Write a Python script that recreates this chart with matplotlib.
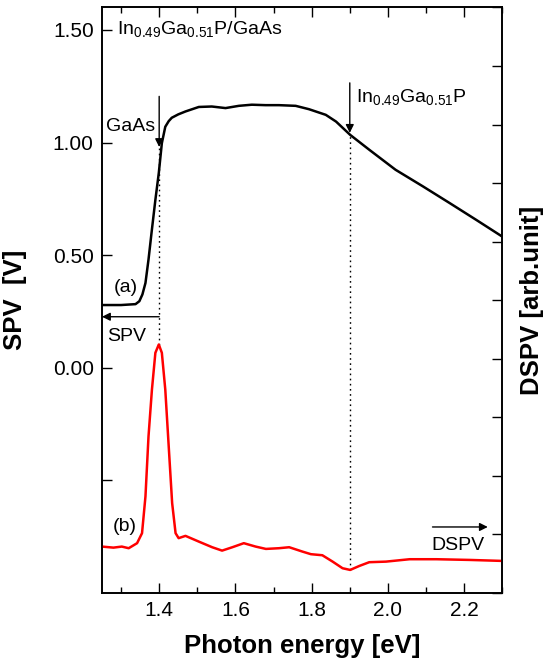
import matplotlib.pyplot as plt
from matplotlib.ticker import FixedLocator, MultipleLocator, NullFormatter

plt.rcParams['font.family'] = ['Liberation Sans', 'DejaVu Sans']
plt.rcParams['mathtext.default'] = 'regular'

# (a) surface photovoltage, left axis [V]
spv_energy = [1.25, 1.30, 1.338, 1.348, 1.356, 1.364, 1.372, 1.380, 1.390, 1.399,
              1.407, 1.416, 1.425, 1.433, 1.450, 1.469, 1.504, 1.538, 1.574,
              1.609, 1.643, 1.679, 1.714, 1.758, 1.793, 1.837, 1.864, 1.901,
              1.951, 2.020, 2.092, 2.162, 2.232, 2.300]
spv_value = [0.278, 0.278, 0.282, 0.295, 0.325, 0.376, 0.48, 0.60, 0.745, 0.865,
             0.997, 1.07, 1.095, 1.11, 1.125, 1.138, 1.158, 1.160, 1.153,
             1.163, 1.168, 1.166, 1.166, 1.163, 1.148, 1.123, 1.093, 1.034,
             0.968, 0.879, 0.805, 0.731, 0.656, 0.582]

# (b) differential SPV, right axis [arb. unit]
dspv_energy = [1.25, 1.28, 1.302, 1.32, 1.342, 1.355, 1.364, 1.372, 1.381, 1.390,
               1.399, 1.407, 1.416, 1.425, 1.434, 1.443, 1.451, 1.469, 1.504,
               1.539, 1.565, 1.592, 1.622, 1.653, 1.680, 1.714, 1.741, 1.776,
               1.798, 1.828, 1.855, 1.881, 1.901, 1.925, 1.951, 1.995, 2.057,
               2.127, 2.214, 2.300]
dspv_value = [0.788, 0.770, 0.788, 0.760, 0.846, 1.017, 1.644, 2.671, 3.471, 4.099,
              4.241, 4.099, 3.471, 2.50, 1.531, 1.017, 0.932, 0.971, 0.873,
              0.777, 0.719, 0.777, 0.846, 0.788, 0.748, 0.760, 0.777, 0.702,
              0.658, 0.640, 0.531, 0.418, 0.389, 0.457, 0.521, 0.531, 0.572,
              0.572, 0.560, 0.543]

gaas_edge = 1.40
ingap_edge = 1.90
spv_ticks = [0.0, 0.5, 1.0, 1.5]

fig = plt.figure(figsize=(5.44, 6.67), dpi=100)
ax = fig.add_axes([0.1875, 0.1114, 0.7358, 0.8774])
ax2 = ax.twinx()

ax.plot(spv_energy, spv_value, color='black', lw=1.8, zorder=3)
ax2.plot(dspv_energy, dspv_value, color='#ff0000', lw=1.8)

ax.set_xlim(1.25, 2.3)
ax.set_ylim(-1.0, 1.6)
ax2.set_ylim(0, 10)

ax.xaxis.set_major_locator(MultipleLocator(0.2))
ax.xaxis.set_minor_locator(MultipleLocator(0.1))
ax.yaxis.set_major_locator(FixedLocator([-0.5] + spv_ticks))
ax.set_yticklabels([''] + ['%.2f' % v for v in spv_ticks])
ax.yaxis.set_minor_locator(FixedLocator([]))
ax2.yaxis.set_major_locator(MultipleLocator(1))
ax2.yaxis.set_major_formatter(NullFormatter())

ax.tick_params(which='both', direction='in', top=True, labelsize=15, width=1, pad=6)
ax.tick_params(which='major', length=7)
ax.tick_params(which='minor', length=4)
ax2.tick_params(direction='in', length=7, width=1)
for a in (ax, ax2):
    for s in a.spines.values():
        s.set_linewidth(1.2)

ax.set_xlabel('Photon energy [eV]', fontsize=18.5, fontweight='bold', labelpad=10)
ax.set_ylabel('SPV  [V]', fontsize=18.5, fontweight='bold')
ax.yaxis.set_label_coords(-0.187, 0.5)
ax2.set_ylabel('DSPV [arb.unit]', fontsize=18.5, fontweight='bold')
ax2.yaxis.set_label_coords(1.044, 0.5)

# band-edge markers
arrow = dict(arrowstyle='-|>', color='black', lw=1, mutation_scale=12, shrinkA=0, shrinkB=0)
ax.annotate('', xy=(gaas_edge, 0.98), xytext=(gaas_edge, 1.205), arrowprops=arrow)
ax.annotate('', xy=(ingap_edge, 1.043), xytext=(ingap_edge, 1.265), arrowprops=arrow)
ax.plot([gaas_edge, gaas_edge], [0.1, 0.98], ls=(0, (1.2, 2.5)), color='black', lw=1)
ax.plot([ingap_edge, ingap_edge], [-0.9, 1.03], ls=(0, (1.2, 2.5)), color='black', lw=1)

ax.text(1.289, 1.505, 'In$_{0.49}$Ga$_{0.51}$P/GaAs', fontsize=14, va='center', ha='left')
ax.text(1.26, 1.07, 'GaAs', fontsize=14, va='center', ha='left')
ax.text(1.915, 1.203, 'In$_{0.49}$Ga$_{0.51}$P', fontsize=14, va='center', ha='left')
ax.text(1.312, 0.358, '(a)', fontsize=14, va='center', ha='center')
ax.text(1.31, -0.705, '(b)', fontsize=14, va='center', ha='center')

# direction arrows telling which axis each curve belongs to
ax.annotate('', xy=(1.25, 0.226), xytext=(gaas_edge, 0.226), arrowprops=arrow)
ax.text(1.264, 0.136, 'SPV', fontsize=14, va='center', ha='left')
ax.annotate('', xy=(2.262, -0.708), xytext=(2.117, -0.708), arrowprops=arrow)
ax.text(2.114, -0.79, 'DSPV', fontsize=14, va='center', ha='left')

fig.savefig('out.png', dpi=100)
